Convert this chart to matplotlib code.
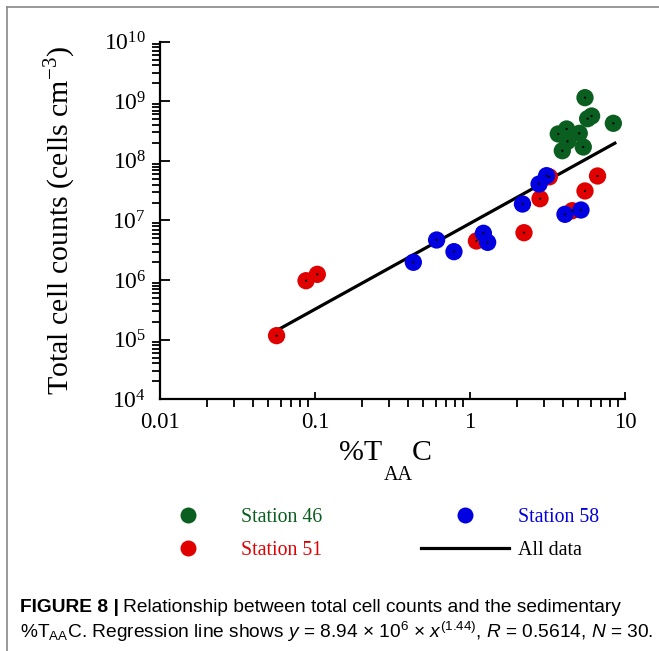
import numpy as np
import matplotlib
matplotlib.use("Agg")
import matplotlib.pyplot as plt
from matplotlib.lines import Line2D
from matplotlib.ticker import LogLocator, NullFormatter

plt.rcParams['font.family'] = ['Liberation Serif', 'DejaVu Serif']
plt.rcParams['mathtext.fontset'] = 'custom'
plt.rcParams['mathtext.rm'] = 'Liberation Sans'
plt.rcParams['mathtext.it'] = 'Liberation Sans:italic'

# %TAAC (x) and total cell counts (y) per station
st46_x = [5.52, 6.09, 5.74, 8.41, 4.20, 3.71, 5.07, 4.26, 5.38, 3.94]
st46_y = [1.15e9, 5.66e8, 5.1e8, 4.27e8, 3.43e8, 2.83e8, 2.9e8, 2.13e8, 1.71e8, 1.48e8]

st51_x = [6.65, 3.25, 5.52, 2.83, 4.57, 2.23, 1.10, 0.1035, 0.0875, 0.0565]
st51_y = [5.58e7, 5.4e7, 3.13e7, 2.32e7, 1.46e7, 6.24e6, 4.53e6, 1.25e6, 9.77e5, 1.17e5]

st58_x = [3.12, 2.79, 2.18, 4.10, 5.20, 0.609, 1.22, 1.30, 0.788, 0.431]
st58_y = [5.65e7, 4.09e7, 1.89e7, 1.27e7, 1.5e7, 4.71e6, 6.1e6, 4.3e6, 3.0e6, 1.99e6]

# regression y = a * x^b over the data range
fit_a = 8.94e6
fit_b = 1.44
fit_xrange = [0.057, 8.6]

green = '#0a5e1f'
red = '#e00000'
blue = '#0000e0'

fig = plt.figure(figsize=(6.59, 6.51), dpi=100)
ax = fig.add_axes([0.2428, 0.3866, 0.7056, 0.5494])

xf = np.array(fit_xrange)
ax.plot(xf, fit_a * xf ** fit_b, color='black', lw=2.3, zorder=2)

for xs, ys, c in [(st46_x, st46_y, green), (st51_x, st51_y, red), (st58_x, st58_y, blue)]:
    ax.scatter(xs, ys, s=155, color=c, edgecolors='none', zorder=3)
    ax.scatter(xs, ys, s=2.5, color='black', edgecolors='none', zorder=4)

ax.set_xscale('log')
ax.set_yscale('log')
ax.set_xlim(0.01, 10)
ax.set_ylim(1e4, 1e10)

for s in ['top', 'right']:
    ax.spines[s].set_visible(False)
for s in ['left', 'bottom']:
    ax.spines[s].set_linewidth(1.6)

ax.xaxis.set_major_locator(LogLocator(base=10, numticks=10))
ax.yaxis.set_major_locator(LogLocator(base=10, numticks=10))
ax.xaxis.set_minor_locator(LogLocator(base=10, subs=np.arange(2, 10), numticks=20))
ax.yaxis.set_minor_locator(LogLocator(base=10, subs=np.arange(2, 10), numticks=20))
ax.xaxis.set_minor_formatter(NullFormatter())
ax.yaxis.set_minor_formatter(NullFormatter())
ax.set_xticks([0.01, 0.1, 1, 10])
ax.set_xticklabels(['0.01', '0.1', '1', '10'])

ax.tick_params(axis='x', which='major', direction='in', length=5, width=1.3, pad=9, labelsize=16.5)
ax.tick_params(axis='x', which='minor', direction='out', length=6, width=1.3)
ax.tick_params(axis='y', which='major', direction='in', length=7, width=1.3, pad=10, labelsize=17)
ax.tick_params(axis='y', which='minor', direction='out', length=6, width=1.3)

ax.set_ylabel(r'Total cell counts (cells cm$^{\mathdefault{-3}}$)', fontsize=21.5, labelpad=20)

# x label with dropped subscript
fig.text(382 / 659, 1 - 453 / 651, '%T', fontsize=21.5, ha='right', va='center')
fig.text(398 / 659, 1 - 476 / 651, 'AA', fontsize=14.5, ha='center', va='center')
fig.text(412 / 659, 1 - 453 / 651, 'C', fontsize=21.5, ha='left', va='center')

handles = [
    Line2D([], [], ls='none', marker='o', ms=11.5, color=green, mec='none'),
    Line2D([], [], ls='none', marker='o', ms=11.5, color=red, mec='none'),
    Line2D([], [], ls='none', marker='o', ms=11.5, color=blue, mec='none'),
    Line2D([], [], color='black', lw=2.3),
]
labels = ['Station 46', 'Station 51', 'Station 58', 'All data']
fig.legend(handles, labels, ncol=2, loc='center', bbox_to_anchor=(0.564, 1 - 534 / 651),
           frameon=False, fontsize=14.3, handlelength=4.43, handletextpad=0.45,
           columnspacing=5.0, labelspacing=0.75,
           labelcolor=[green, red, blue, 'black'])

# figure frame
fig.add_artist(Line2D([7 / 659, 1], [1 - 7 / 651, 1 - 7 / 651], color='#888888', lw=1.2))
fig.add_artist(Line2D([7 / 659, 7 / 659], [0, 1 - 7 / 651], color='#888888', lw=1.2))

cap_font = ['Liberation Sans', 'DejaVu Sans']
cap_size = 13.8
bold = fig.text(20 / 659, 1 - 607 / 651, 'FIGURE 8 |', fontsize=cap_size, fontweight='bold',
                family=cap_font, va='center', ha='left')
fig.canvas.draw()
bb = bold.get_window_extent().transformed(fig.transFigure.inverted())
fig.text(bb.x1 + 4 / 659, 1 - 607 / 651, 'Relationship between total cell counts and the sedimentary',
         fontsize=cap_size, family=cap_font, va='center', ha='left')
fig.text(20 / 659, 1 - 632 / 651,
         r'%T$_{\mathdefault{AA}}$C. Regression line shows $y$ = 8.94 × 10$^{\mathdefault{6}}$ × '
         r'$x^{\mathdefault{(1.44)}}$, $R$ = 0.5614, $N$ = 30.',
         fontsize=cap_size, family=cap_font, va='center', ha='left')

fig.savefig('out.png', dpi=100)
